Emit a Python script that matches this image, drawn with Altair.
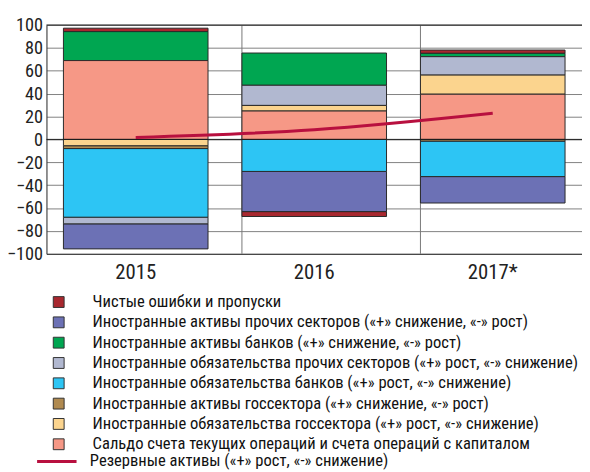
import altair as alt
import pandas as pd

FONT = "Roboto Condensed, Liberation Sans Narrow, DejaVu Sans Condensed, Arial Narrow, Liberation Sans, sans-serif"

years = ["2015", "2016", "2017*"]

series = [
    "Чистые ошибки и пропуски",
    "Иностранные активы прочих секторов («+» снижение, «-» рост)",
    "Иностранные активы банков («+» снижение, «-» рост)",
    "Иностранные обязательства прочих секторов («+» рост, «-» снижение)",
    "Иностранные обязательства банков («+» рост, «-» снижение)",
    "Иностранные активы госсектора («+» снижение, «-» рост)",
    "Иностранные обязательства госсектора («+» рост, «-» снижение)",
    "Сальдо счета текущих операций и счета операций с капиталом",
]
colors = ["#A8282F", "#6C71B5", "#00A651", "#B1B8D0",
          "#2DC5F4", "#B08A50", "#FBD48E", "#F69886"]
# stacking rank (0 = nearest to zero)
stack_rank = [7, 6, 5, 4, 3, 2, 1, 0]

errors = [3.0, -4.3, 2.9]
other_assets = [-21.9, -35.1, -23.1]
bank_assets = [25.3, 28.2, 2.9]
other_liab = [-5.8, 17.6, 16.1]
bank_liab = [-60.0, -28.0, -31.0]
gov_assets = [-2.5, 0.0, -1.5]
gov_liab = [-5.5, 4.9, 16.7]
current_capital = [68.9, 24.8, 39.5]

reserve_name = "Резервные активы («+» рост, «-» снижение)"
reserves = [1.7, 8.4, 22.8]

y_ticks = [-100, -80, -60, -40, -20, 0, 20, 40, 60, 80, 100]
ref_lines = [0, 100]

series_values = [errors, other_assets, bank_assets, other_liab,
                 bank_liab, gov_assets, gov_liab, current_capital]

rows = []
for s, vals, r in zip(series, series_values, stack_rank):
    for y, v in zip(years, vals):
        if v != 0:
            rows.append({"year": y, "series": s, "value": v, "rank": r})
df = pd.DataFrame(rows)
df_line = pd.DataFrame({"year": years, "value": reserves, "series": reserve_name})
df_sep = pd.DataFrame({"year": years[1:]})
df_ref = pd.DataFrame({"value": ref_lines})

x_scale = alt.Scale(domain=years, paddingInner=0.19, paddingOuter=0.095)
y_scale = alt.Scale(domain=[-100, 100], nice=False)

x_axis = alt.Axis(title=None, labelAngle=0, labelFontSize=21, labelFont=FONT,
                  labelColor="#222", labelPadding=8, ticks=False,
                  domain=True, domainColor="#333", domainWidth=1, grid=False)
y_axis = alt.Axis(values=y_ticks, title=None, labelFont=FONT,
                  labelFontSize=18.5, labelColor="#222", ticks=False, labelPadding=4,
                  labelOverlap=False, labelFlush=False,
                  grid=True, gridColor="#808080", gridWidth=1,
                  domainColor="#333", domainWidth=1)

sep = alt.Chart(df_sep).mark_rule(color="#777", strokeWidth=1).encode(
    x=alt.X("year:N", sort=years, scale=x_scale, bandPosition=0, axis=x_axis)
)

bars = alt.Chart(df).mark_bar(stroke="#2a2a2a", strokeWidth=1).encode(
    x=alt.X("year:N", sort=years, scale=x_scale, axis=x_axis),
    y=alt.Y("value:Q", stack="zero", scale=y_scale, axis=y_axis),
    fill=alt.Fill("series:N", scale=alt.Scale(domain=series, range=colors),
                  legend=alt.Legend(title=None, orient="none", legendX=4, legendY=272.5,
                                    symbolType="square", symbolSize=121,
                                    symbolStrokeColor="#333", symbolStrokeWidth=1,
                                    labelFont=FONT, labelFontSize=16.8, labelColor="#111",
                                    labelOffset=26, rowPadding=2.6, padding=0,
                                    labelLimit=600)),
    order=alt.Order("rank:Q", sort="ascending"),
)

refs = alt.Chart(df_ref).mark_rule(color="#1a1a1a", strokeWidth=1).encode(
    y=alt.Y("value:Q", scale=y_scale, axis=y_axis)
)

line = alt.Chart(df_line).mark_line(strokeWidth=3, interpolate="monotone").encode(
    x=alt.X("year:N", sort=years, scale=x_scale, axis=x_axis),
    y=alt.Y("value:Q", scale=y_scale, axis=y_axis),
    stroke=alt.Stroke("series:N", scale=alt.Scale(domain=[reserve_name], range=["#B8103F"]),
                      legend=alt.Legend(title=None, orient="none", legendX=-11, legendY=421,
                                        symbolType="stroke", symbolSize=1600,
                                        symbolStrokeWidth=3,
                                        labelFont=FONT, labelFontSize=16.8, labelColor="#111",
                                        labelOffset=12, padding=0, labelLimit=600)),
)

chart = alt.layer(sep, bars, refs, line).properties(
    width=543, height=232,
    padding={"left": 39, "top": 14, "right": 0, "bottom": 218},
    autosize=alt.AutoSizeParams(type="none"),
).configure_view(stroke=None).configure(background="white")

chart.save("out.html", embed_options={"renderer": "svg", "actions": False})
